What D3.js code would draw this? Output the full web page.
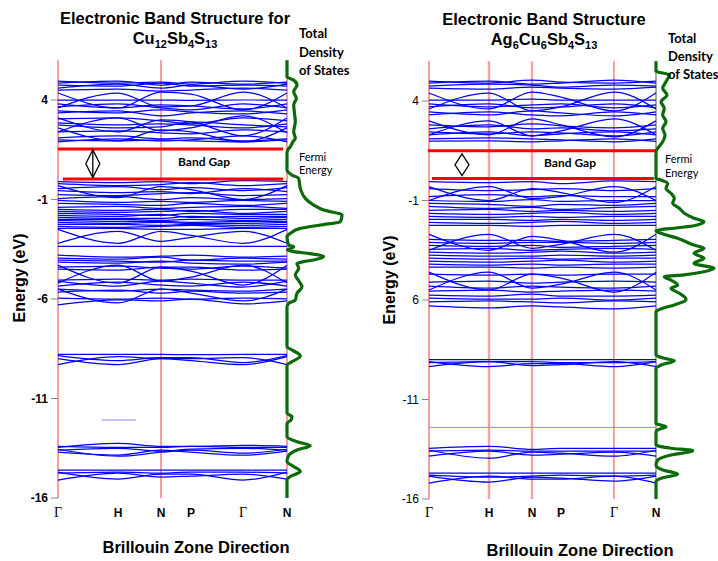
<!DOCTYPE html>
<html><head><meta charset="utf-8">
<script src="https://cdn.jsdelivr.net/npm/d3@7"></script>
<style>body{margin:0;background:#fff}svg{display:block}</style>
</head><body><svg id="c" width="718" height="561"></svg>
<script>
// ---------------- DATA ----------------
const kLabels = ["Γ","H","N","P","Γ","N"];
const kIndex = [0,1,2,3,4,5];
const energyTicks = [4,-1,-6,-11,-16];
const leftTickLabels = ["4","-1","-6","-11","-16"];
const rightTickLabels = ["4","-1","6","-11","-16"];

const leftTitle = "Electronic Band Structure for";
const leftFormula = [["Cu","12"],["Sb","4"],["S","13"]];
const rightTitle = "Electronic Band Structure";
const rightFormula = [["Ag","6"],["Cu","6"],["Sb","4"],["S","13"]];

// band energies (eV) at Γ, H, N, P, Γ, N
const leftBands = [
 [4.95,4.85,4.9,4.8,4.95,4.85],[4.85,4.95,4.75,4.9,4.8,4.9],[4.75,4.7,4.85,4.7,4.75,4.7],
 [4.6,4.8,4.6,4.75,4.55,4.8],[4.5,4.55,4.45,4.5,4.6,4.5],[4.35,3.6,4.4,4.3,3.5,4.35],
 [3.6,4.35,3.65,3.7,4.4,3.6],[4.0,4.0,4.0,3.98,4.0,4.0],[3.8,3.6,3.75,3.7,3.55,3.8],
 [3.65,3.8,3.6,3.5,3.8,3.6],[3.45,3.35,3.5,3.4,3.3,3.5],[3.35,3.45,3.2,3.35,3.45,3.3],
 [3.1,2.4,3.0,2.9,2.2,3.1],[3.05,3.1,2.95,2.8,3.1,2.95],[2.85,2.75,2.8,2.75,2.6,2.8],
 [2.75,2.6,2.65,2.9,2.75,2.65],[2.4,3.1,2.45,2.6,3.2,2.35],[2.4,2.45,2.35,2.3,2.5,2.4],
 [2.6,1.95,2.5,2.4,1.9,2.6],[2.1,2.2,2.05,2.1,1.95,2.05],[2.0,1.95,2.0,1.95,1.9,2.0],
 [1.9,2.05,1.95,2.0,2.2,1.9],
 [-0.1,-0.15,-0.1,-0.2,-0.05,-0.1],[-0.2,-0.3,-0.25,-0.15,-0.3,-0.2],[-0.3,-0.9,-0.35,-0.5,-1.0,-0.3],
 [-0.45,-0.35,-0.5,-0.4,-0.55,-0.4],
 [-0.55,-0.65,-0.6,-0.7,-0.45,-0.6],[-0.75,-0.8,-0.7,-0.65,-0.8,-0.75],[-0.95,-0.85,-1.0,-0.9,-1.0,-0.95],
 [-1.05,-1.15,-1.1,-1.15,-1.05,-1.1],[-1.2,-1.25,-1.3,-1.2,-1.3,-1.2],[-1.4,-1.35,-1.45,-1.4,-1.35,-1.45],
 [-1.5,-1.55,-1.5,-1.6,-1.5,-1.5],[-1.6,-1.65,-1.6,-1.55,-1.7,-1.6],[-1.7,-1.75,-1.8,-1.7,-1.75,-1.75],
 [-1.8,-1.85,-1.75,-1.9,-1.85,-1.85],[-1.9,-1.95,-1.95,-1.85,-1.95,-1.9],[-2.0,-2.0,-2.05,-2.0,-2.05,-2.0],
 [-2.05,-2.1,-2.1,-2.15,-2.1,-2.1],[-2.15,-2.2,-2.15,-2.2,-2.2,-2.15],[-2.25,-2.25,-2.3,-2.25,-2.3,-2.25],
 [-2.35,-2.4,-2.35,-2.3,-2.4,-2.35],[-2.45,-2.45,-2.5,-2.5,-2.45,-2.45],[-2.5,-3.2,-2.6,-2.8,-3.2,-2.5],
 [-3.2,-2.6,-3.1,-2.9,-2.6,-3.2],[-3.35,-3.35,-3.35,-3.35,-3.35,-3.35],[-3.8,-3.9,-3.85,-3.8,-3.9,-3.85],
 [-3.95,-4.0,-3.9,-4.05,-3.95,-4.0],[-4.05,-4.1,-4.15,-4.05,-4.1,-4.1],[-4.15,-4.2,-4.1,-4.2,-4.25,-4.15],
 [-4.4,-4.35,-4.45,-4.5,-4.35,-4.45],[-4.5,-4.55,-4.4,-4.4,-4.55,-4.5],[-4.3,-5.2,-4.4,-4.6,-5.3,-4.3],
 [-5.2,-4.3,-5.1,-4.9,-4.3,-5.2],[-5.05,-5.0,-5.05,-5.0,-5.05,-5.05],[-5.1,-5.35,-5.1,-5.2,-5.4,-5.1],
 [-5.35,-5.15,-5.3,-5.35,-5.15,-5.35],[-5.5,-5.6,-5.5,-5.55,-5.6,-5.5],[-5.65,-5.55,-5.7,-5.6,-5.7,-5.65],
 [-5.5,-6.2,-5.5,-5.7,-6.1,-5.5],[-5.95,-6.0,-5.95,-6.0,-5.95,-6.0],[-6.3,-6.05,-6.1,-6.0,-6.25,-6.1],
 [-8.78,-8.78,-8.78,-8.8,-8.78,-8.78],[-8.85,-9.1,-8.95,-8.95,-9.2,-8.85],[-9.0,-9.3,-9.0,-9.1,-9.3,-8.9],
 [-9.3,-8.9,-9.0,-9.0,-8.95,-9.3],
 [-13.45,-13.25,-13.4,-13.4,-13.35,-13.4],[-13.4,-13.45,-13.45,-13.4,-13.45,-13.45],[-13.6,-13.5,-13.65,-13.55,-13.5,-13.6],
 [-13.7,-13.85,-13.6,-13.7,-13.85,-13.65],[-13.55,-13.9,-13.7,-13.6,-13.75,-13.55],
 [-14.6,-14.6,-14.6,-14.6,-14.6,-14.6],[-14.75,-14.7,-14.75,-14.7,-14.7,-14.75],[-14.7,-15.05,-14.8,-14.8,-15.1,-14.7],
 [-15.1,-14.75,-14.95,-14.9,-14.8,-15.05]
];
const rightBands = [
 [5.0,4.9,5.05,4.95,4.9,5.0],[4.9,5.0,4.85,4.9,5.05,4.9],[4.75,4.85,4.8,4.7,4.8,4.75],
 [4.65,4.6,4.7,4.65,4.6,4.7],[4.4,3.6,4.45,4.2,3.5,4.4],[3.6,4.4,3.5,3.7,4.45,3.6],
 [4.05,4.05,4.1,4.05,4.05,4.05],[3.85,3.7,3.8,3.85,3.65,3.8],[3.7,3.85,3.65,3.7,3.85,3.65],
 [3.45,3.3,3.5,3.4,3.25,3.45],[3.3,3.45,3.3,3.25,3.45,3.3],[3.0,2.3,3.1,2.8,2.2,3.0],
 [2.3,3.0,2.25,2.5,3.1,2.3],[2.8,2.7,2.85,2.75,2.65,2.8],[2.6,2.8,2.6,2.65,2.5,2.6],
 [2.45,2.35,2.45,2.4,2.25,2.45],[2.3,2.45,2.25,2.35,2.45,2.3],[2.1,2.15,2.1,2.05,1.95,2.1],
 [1.98,2.0,1.95,2.0,2.1,1.97],
 [-0.05,-0.1,-0.05,-0.15,-0.02,-0.05],[-0.3,-1.0,-0.4,-0.6,-1.1,-0.3],[-0.4,-0.5,-0.45,-0.4,-0.5,-0.4],
 [-1.0,-0.3,-0.9,-0.8,-0.3,-1.0],[-0.8,-0.7,-0.8,-0.75,-0.8,-0.8],[-1.0,-1.05,-0.95,-1.05,-1.0,-1.0],
 [-1.15,-1.2,-1.3,-1.2,-1.25,-1.15],[-1.3,-1.4,-1.35,-1.45,-1.35,-1.3],[-1.5,-1.45,-1.55,-1.5,-1.55,-1.5],
 [-1.65,-1.7,-1.65,-1.6,-1.7,-1.65],[-1.8,-1.85,-1.8,-1.85,-1.8,-1.8],[-1.95,-1.95,-2.0,-1.95,-2.0,-1.95],
 [-2.1,-2.15,-2.1,-2.05,-2.15,-2.1],[-2.25,-2.25,-2.3,-2.25,-2.25,-2.25],[-2.7,-3.5,-2.8,-3.0,-3.6,-2.7],
 [-3.5,-2.7,-3.4,-3.2,-2.7,-3.5],[-2.95,-3.0,-3.0,-3.05,-3.0,-2.95],[-3.1,-3.15,-3.1,-3.1,-3.15,-3.1],
 [-3.25,-3.3,-3.25,-3.35,-3.3,-3.25],[-3.45,-3.4,-3.5,-3.45,-3.4,-3.45],[-3.6,-3.65,-3.6,-3.55,-3.65,-3.6],
 [-3.75,-3.8,-3.8,-3.75,-3.8,-3.75],[-3.9,-3.95,-3.9,-3.95,-3.9,-3.9],[-4.05,-4.1,-4.05,-4.0,-4.1,-4.05],
 [-4.2,-4.25,-4.2,-4.25,-4.2,-4.2],[-4.35,-4.35,-4.4,-4.35,-4.4,-4.35],[-4.6,-5.5,-4.7,-4.9,-5.6,-4.6],
 [-4.7,-4.75,-4.7,-4.75,-4.7,-4.7],[-5.5,-4.6,-5.4,-5.2,-4.6,-5.5],[-5.1,-5.05,-5.15,-5.1,-5.05,-5.1],
 [-5.3,-5.4,-5.3,-5.35,-5.4,-5.3],[-5.55,-5.5,-5.6,-5.55,-5.5,-5.55],[-5.75,-5.8,-5.7,-5.8,-5.8,-5.75],
 [-5.9,-5.95,-5.95,-5.9,-6.0,-5.9],[-6.1,-6.05,-6.1,-6.15,-6.05,-6.1],[-6.3,-6.4,-6.3,-6.35,-6.45,-6.3],
 [-9.0,-9.0,-9.0,-9.0,-9.0,-9.0],[-9.15,-9.1,-9.1,-9.15,-9.15,-9.1],[-9.1,-9.35,-9.2,-9.2,-9.35,-9.1],
 [-9.35,-9.1,-9.3,-9.25,-9.1,-9.35],
 [-13.45,-13.35,-13.5,-13.45,-13.45,-13.45],[-13.6,-13.55,-13.6,-13.6,-13.6,-13.6],[-13.55,-13.95,-13.65,-13.7,-13.85,-13.55],
 [-13.85,-13.6,-13.8,-13.75,-13.65,-13.85],
 [-14.7,-14.7,-14.7,-14.7,-14.7,-14.7],[-14.8,-14.9,-14.85,-14.8,-14.85,-14.8],[-14.85,-15.15,-14.9,-14.95,-15.1,-14.85],
 [-15.2,-14.85,-15.0,-15.0,-14.85,-15.2]
];
// faint flat bands: [kStart, kEnd, energy]
const leftFaint = [[0.73,1.42,-12.08]];
const rightFaint = [[0,5,-12.4]];

// band gap edges: [kStart, kEnd, energy]
const leftGap = [[0,4.91,1.54],[0.08,4.91,0.03]];
const rightGap = [[-0.02,5,1.5],[0.05,4.95,0.1]];
// gap arrows: [k, eTop, eBottom]
const leftArrow = [0.58,1.5,0.1];
const rightArrow = [0.55,1.34,0.25];

// total density of states (energy, arbitrary units)
const leftDosE = [6.0,5.17,5.0,4.75,4.42,4.08,3.75,3.41,2.91,2.41,2.08,1.91,1.65,1.49,1.3,0.48,0.23,0.06,-0.44,-0.94,-1.28,-1.53,-1.78,-2.12,-2.28,-2.45,-2.70,-2.87,-3.29,-3.37,-3.54,-3.62,-3.70,-3.87,-4.04,-4.12,-4.21,-4.46,-4.79,-5.08,-5.38,-5.71,-6.05,-6.22,-6.39,-8.40,-8.56,-8.86,-9.15,-9.32,-11.74,-11.91,-12.08,-12.25,-12.92,-13.17,-13.37,-13.59,-13.84,-14.17,-14.42,-14.67,-14.92,-15.08,-16];
const leftDosV = [0,0,6.7,10,6.7,9.3,6.7,7.3,8.3,6.7,8.3,6,3.3,0.7,0,0,5,11.7,13.3,18.3,26.7,36.7,55,53.3,33.3,13.3,3.3,0,1.7,6.7,0.5,6.7,20,36.7,26.7,16.7,10,11.7,8.3,11.7,15,10,8.3,1.7,0,0,5,13.3,5,0,0,5,4,0,0,10,23.3,10,2,0,6.7,13.3,3.3,0,0];
const rightDosE = [6.0,5.5,5.31,4.97,4.64,4.30,3.96,3.63,3.30,2.96,2.63,2.29,1.95,1.62,1.45,0.11,0.03,-0.14,-0.39,-0.64,-0.89,-1.14,-1.39,-1.64,-1.89,-2.07,-2.27,-2.37,-2.52,-2.65,-2.90,-3.24,-3.40,-3.65,-3.90,-4.16,-4.41,-4.58,-4.74,-4.83,-5.0,-5.25,-5.41,-5.66,-5.97,-6.25,-6.42,-6.59,-8.76,-8.93,-9.05,-9.27,-9.43,-12.20,-12.37,-12.53,-12.62,-13.29,-13.45,-13.57,-13.79,-14.04,-14.29,-14.54,-14.74,-14.96,-15.13,-16];
const rightDosV = [0,0,13.3,10,6.7,11,5,8.3,6.7,10,6.7,9,6.7,1.7,0,0,5,11.7,10,15,18.3,16.7,23.3,28.3,38,48,38,21.7,0,5,21.7,38,48,38,48,38,58,48,28,8.3,15,21.7,15,23.3,30,18.3,6.7,0,0,8.3,18.3,5,0,0,10,1.7,0,0,15,36.7,15,1.7,0,6.7,21.7,5,0,0];

// ---------------- DRAW ----------------
const svg = d3.select("#c");
const panels = [
  {bands:leftBands, faint:leftFaint, gap:leftGap, arrow:leftArrow, arrowLine:true,
   dosE:leftDosE, dosV:leftDosV, tickLabels:leftTickLabels, tickBold:true,
   kx:[58,118,161,191,243,287], yr:[100,498], 
   vlines:[[0,"#f04040",1],[2,"#f04040",1],[5,"#f04040",1]],
   title:leftTitle, formula:leftFormula, cx:175, titleY:[24,44],
   tickX:48, energyX:25, energyY:278, bzX:196, bzY:553, kY:517,
   tds:[299,[38,57,75]], fermi:[299,161,174], bandGapX:204, bandGapY:166},
  {bands:rightBands, faint:rightFaint, gap:rightGap, arrow:rightArrow, arrowLine:false,
   dosE:rightDosE, dosV:rightDosV, tickLabels:rightTickLabels, tickBold:false,
   kx:[429,489,532,561,614,656], yr:[101,499],
   vlines:[[0,"#f04040",1],[1,"#f5a3a3",2.5],[2,"#f5a3a3",2.5],[3.999,"#f04040",1],[5,"#555555",1]],
   title:rightTitle, formula:rightFormula, cx:544, titleY:[25,45],
   tickX:419, energyX:395, energyY:280, bzX:580, bzY:556, kY:517,
   tds:[668,[43,61,79]], fermi:[665,163,177], bandGapX:570, bandGapY:167}
];

panels.forEach(p => {
  const x = d3.scaleLinear().domain(kIndex).range(p.kx);
  const y = d3.scaleLinear().domain([energyTicks[0], energyTicks[energyTicks.length-1]]).range(p.yr);
  const top = y(6.0), bot = y(-16);
  const g = svg.append("g");

  p.vlines.forEach(v => {
    g.append("line").attr("x1",x(v[0])).attr("x2",x(v[0])).attr("y1",top).attr("y2",bot)
      .attr("stroke",v[1]).attr("stroke-width",v[2]);
  });

  energyTicks.forEach((t,i) => {
    g.append("line").attr("x1",p.kx[0]-7).attr("x2",p.kx[0]).attr("y1",y(t)).attr("y2",y(t))
      .attr("stroke","#888").attr("stroke-width",1);
    g.append("text").attr("x",p.tickX).attr("y",y(t)).attr("dy","0.35em")
      .attr("text-anchor","end").attr("font-family","Liberation Sans, Arial, sans-serif")
      .attr("font-size",12).attr("font-weight",p.tickBold?"bold":"normal").attr("fill","#000")
      .text(p.tickLabels[i]);
  });

  const line = d3.line().x((d,i)=>x(kIndex[i])).y(d=>y(d)).curve(d3.curveMonotoneX);
  g.append("g").selectAll("path").data(p.bands).join("path")
    .attr("d",line).attr("fill","none").attr("stroke","#0000ff").attr("stroke-width",1.25);
  p.faint.forEach(f => {
    g.append("line").attr("x1",x(f[0])).attr("x2",x(f[1])).attr("y1",y(f[2])).attr("y2",y(f[2]))
      .attr("stroke","#8888ff").attr("stroke-width",1);
  });

  p.gap.forEach(d => {
    g.append("line").attr("x1",x(d[0])).attr("x2",x(d[1])).attr("y1",y(d[2])).attr("y2",y(d[2]))
      .attr("stroke","#ff0000").attr("stroke-width",3);
  });
  const ax = x(p.arrow[0]), at = y(p.arrow[1]), ab = y(p.arrow[2]), am = (at+ab)/2;
  g.append("path").attr("d",`M${ax},${at}L${ax-7},${am}L${ax},${ab}L${ax+7},${am}Z`)
    .attr("fill","#fff").attr("stroke","#000").attr("stroke-width",1.3);
  if (p.arrowLine) g.append("line").attr("x1",ax).attr("x2",ax).attr("y1",at).attr("y2",ab)
    .attr("stroke","#000").attr("stroke-width",1.3);

  const dx = d3.scaleLinear().domain([0,60]).range([p.kx[5], p.kx[5]+60]);
  const dosLine = d3.line().x((d,i)=>dx(p.dosV[i])).y(d=>y(d)).curve(d3.curveMonotoneY);
  g.append("path").attr("d",dosLine(p.dosE)).attr("fill","none").attr("stroke","#0b6b0b")
    .attr("stroke-width",3.2).attr("stroke-linejoin","round");

  kLabels.forEach((k,i) => {
    const isG = k==="Γ";
    g.append("text").attr("x",x(i)).attr("y",p.kY).attr("text-anchor","middle")
      .attr("font-family", isG ? "Liberation Serif, Times New Roman, serif" : "Liberation Sans, Arial, sans-serif")
      .attr("font-size", isG ? 14 : 12).attr("font-weight", isG ? "normal" : "bold").text(k);
  });

  const tf = "Liberation Sans, Arial, sans-serif";
  g.append("text").attr("x",p.cx).attr("y",p.titleY[0]).attr("text-anchor","middle")
    .attr("font-family",tf).attr("font-size",16.5).attr("font-weight","bold").text(p.title);
  const t2 = g.append("text").attr("x",p.cx).attr("y",p.titleY[1]).attr("text-anchor","middle")
    .attr("font-family",tf).attr("font-size",16.5).attr("font-weight","bold");
  p.formula.forEach((f,i) => {
    t2.append("tspan").attr("dy", i===0?0:-4).text(f[0]);
    t2.append("tspan").attr("dy",4).attr("font-size",11).text(f[1]);
  });

  g.append("text").attr("transform",`translate(${p.energyX},${p.energyY}) rotate(-90)`)
    .attr("text-anchor","middle").attr("font-family",tf).attr("font-size",16).attr("font-weight","bold")
    .text("Energy (eV)");
  g.append("text").attr("x",p.bzX).attr("y",p.bzY).attr("text-anchor","middle")
    .attr("font-family",tf).attr("font-size",16.5).attr("font-weight","bold").text("Brillouin Zone Direction");

  const af = "Lato, Open Sans, sans-serif";
  ["Total","Density","of States"].forEach((s,i) => {
    g.append("text").attr("x",p.tds[0]).attr("y",p.tds[1][i]).attr("font-family",af)
      .attr("font-size",13).attr("font-weight","bold").text(s);
  });
  g.append("text").attr("x",p.fermi[0]).attr("y",p.fermi[1]).attr("font-family",af).attr("font-size",11).text("Fermi");
  g.append("text").attr("x",p.fermi[0]).attr("y",p.fermi[2]).attr("font-family",af).attr("font-size",11).text("Energy");
  g.append("text").attr("x",p.bandGapX).attr("y",p.bandGapY).attr("text-anchor","middle").attr("font-family",af)
    .attr("font-size",12).attr("font-weight","bold").text("Band Gap");
});
</script></body></html>
